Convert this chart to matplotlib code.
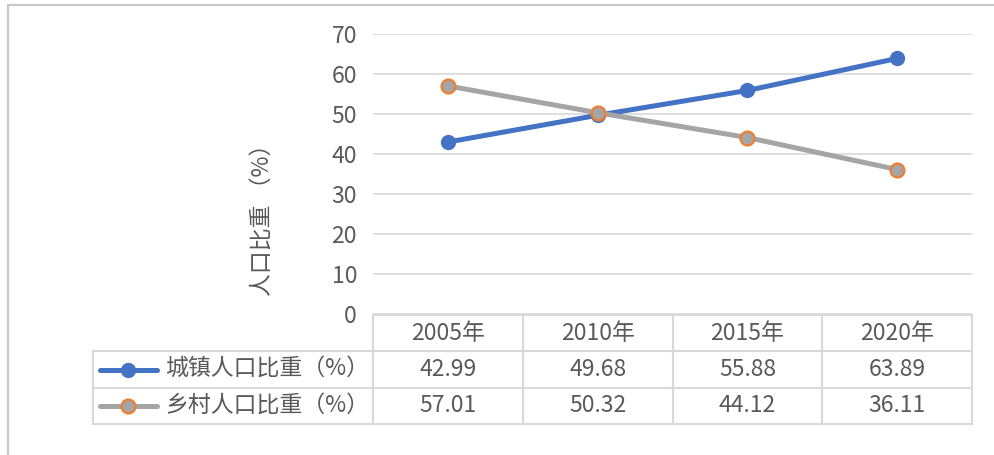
import numpy as np
import matplotlib
matplotlib.use("Agg")
import matplotlib.pyplot as plt
from matplotlib.lines import Line2D

plt.rcParams['font.family'] = ['Noto Sans CJK SC', 'DejaVu Sans']
plt.rcParams['font.weight'] = 'light'

# Data
years = ["2005年", "2010年", "2015年", "2020年"]
urban = [42.99, 49.68, 55.88, 63.89]
rural = [57.01, 50.32, 44.12, 36.11]
series_names = ["城镇人口比重（%）", "乡村人口比重（%）"]
ylabel = "人口比重 （%）"

# Style
W, H = 995, 455
TEXT = "#595959"
GRID = "#d9d9d9"
BLUE = "#4472C4"
GRAY = "#A5A5A5"
ORANGE = "#ED7D31"
FS = 16.5


def box(x0, y0, x1, y1):
    # pixel box (top-left origin) -> figure fraction
    return [x0 / W, 1 - y1 / H, (x1 - x0) / W, (y1 - y0) / H]


fig = plt.figure(figsize=(W / 100, H / 100), dpi=100)

# Outer frame (left and top edges visible)
fig.add_artist(Line2D([8 / W, 8 / W], [0, 1 - 5 / H], transform=fig.transFigure, color="#c8c8c8", lw=1.5))
fig.add_artist(Line2D([8 / W, 1], [1 - 5 / H, 1 - 5 / H], transform=fig.transFigure, color="#c8c8c8", lw=1.5))

#Line chart

ax = fig.add_axes(box(373, 34, 972, 314))
x = np.arange(len(years))
ax.plot(x, urban, color=BLUE, lw=3.6, marker="o", ms=10, mfc=BLUE, mec=BLUE, zorder=3)
ax.plot(x, rural, color=GRAY, lw=3.6, marker="o", ms=10, mfc=GRAY, mec=ORANGE, mew=1.6, zorder=4)
ax.set_xlim(-0.5, len(years) - 0.5)
ax.set_ylim(0, 70)
ax.set_yticks(np.arange(0, 71, 10))
ax.set_xticks([])
ax.tick_params(axis="y", length=0, pad=11.5, labelsize=FS, labelcolor=TEXT)
ax.grid(axis="y", color=GRID, lw=1.2)
ax.set_axisbelow(True)
for s in ax.spines.values():
    s.set_visible(False)

fig.text(263 / W, 1 - 214 / H, ylabel, rotation=90, ha="center", va="center", fontsize=FS, color=TEXT)

#Data table

px_per_unit = (972 - 373) / len(years)
leg_w = (373 - 93) / px_per_unit
left = -0.5 - leg_w
right = len(years) - 0.5

tab = fig.add_axes(box(93, 315, 972, 424))
tab.set_xlim(left, right)
tab.set_ylim(3, 0)
tab.axis("off")

lk = dict(color=GRID, lw=1.5, clip_on=False)
tab.plot([-0.5, right], [0, 0], **lk)
for r in [1, 2, 3]:
    tab.plot([left, right], [r, r], **lk)
tab.plot([left, left], [1, 3], **lk)
for c in range(len(years) + 1):
    tab.plot([c - 0.5, c - 0.5], [0, 3], **lk)

for i, yr in enumerate(years):
    tab.text(i, 0.5, yr, ha="center", va="center", fontsize=FS, color=TEXT)
    tab.text(i, 1.5, f"{urban[i]:.2f}", ha="center", va="center", fontsize=FS, color=TEXT)
    tab.text(i, 2.5, f"{rural[i]:.2f}", ha="center", va="center", fontsize=FS, color=TEXT)

def px2x(px):
    return -0.5 - (373 - px) / px_per_unit

k0, k1, km = px2x(100), px2x(157), px2x(128)
tab.plot([k0, k1], [1.5, 1.5], color=BLUE, lw=3.6, solid_capstyle="round", clip_on=False)
tab.plot([km], [1.5], marker="o", ms=10, mfc=BLUE, mec=BLUE, clip_on=False)
tab.plot([k0, k1], [2.5, 2.5], color=GRAY, lw=3.6, solid_capstyle="round", clip_on=False)
tab.plot([km], [2.5], marker="o", ms=10, mfc=GRAY, mec=ORANGE, mew=1.6, clip_on=False)
tab.text(px2x(165), 1.5, series_names[0], ha="left", va="center", fontsize=FS, color=TEXT)
tab.text(px2x(165), 2.5, series_names[1], ha="left", va="center", fontsize=FS, color=TEXT)

fig.savefig("out.png", dpi=100)
